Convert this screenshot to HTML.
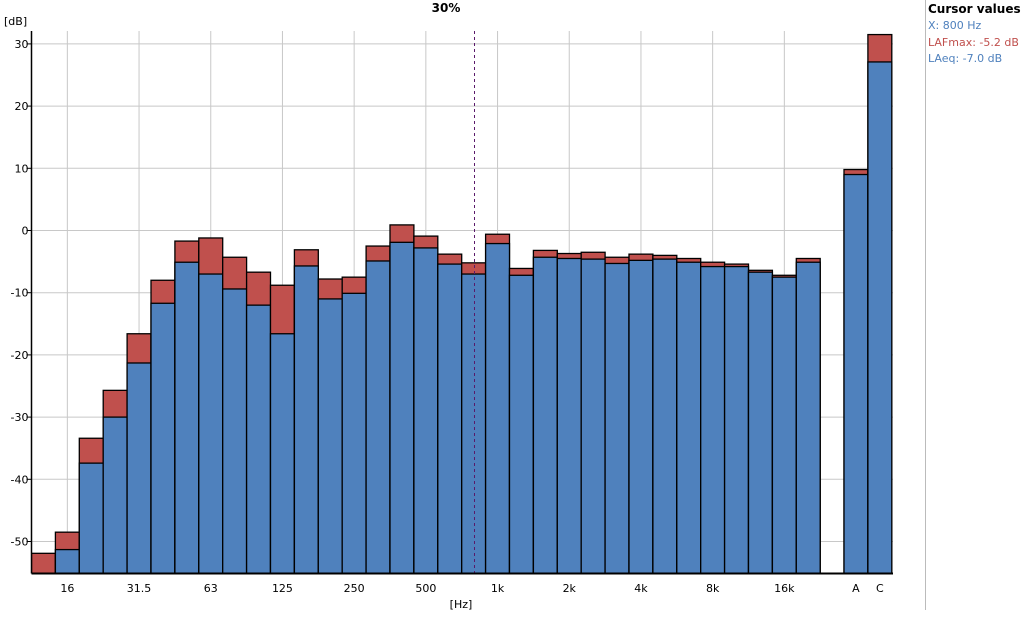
<!DOCTYPE html>
<html><head><meta charset="utf-8"><style>
body{margin:0;background:#fff;font-family:"DejaVu Sans","Liberation Sans",sans-serif;}
svg text{font-family:"DejaVu Sans","Liberation Sans",sans-serif;}
</style></head><body>
<svg width="1030" height="617" xmlns="http://www.w3.org/2000/svg">
<g id="grid"></g>
<g id="bars"></g>
<g id="axes"></g>
<text x="446" y="12" text-anchor="middle" font-size="12" font-weight="bold">30%</text>
<text x="4" y="25" font-size="11">[dB]</text>
<text x="461" y="608" text-anchor="middle" font-size="11">[Hz]</text>
<line x1="925.5" y1="0" x2="925.5" y2="610" stroke="#bbb"/>
<text x="928" y="13" font-size="12" font-weight="bold">Cursor values</text>
<text x="928" y="29" font-size="11" fill="#4f81bd">X: 800 Hz</text>
<text x="928" y="46" font-size="11" fill="#c0504d">LAFmax: -5.2 dB</text>
<text x="928" y="62" font-size="11" fill="#4f81bd">LAeq: -7.0 dB</text>
</svg>
<script>
const categories=["12.5","16","20","25","31.5","40","50","63","80","100","125","160","200","250","315","400","500","630","800","1k","1.25k","1.6k","2k","2.5k","3.15k","4k","5k","6.3k","8k","10k","12.5k","16k","20k","A","C"];
const lafmax=[-51.9,-48.5,-33.4,-25.7,-16.6,-8.0,-1.7,-1.2,-4.3,-6.7,-8.8,-3.1,-7.8,-7.5,-2.5,0.9,-0.9,-3.8,-5.2,-0.6,-6.1,-3.2,-3.7,-3.5,-4.3,-3.8,-4.0,-4.5,-5.1,-5.4,-6.4,-7.2,-4.5,9.8,31.5];
const laeq=[-56,-51.3,-37.4,-30.0,-21.3,-11.7,-5.1,-7.0,-9.4,-12.0,-16.6,-5.7,-11.0,-10.1,-4.9,-1.9,-2.8,-5.4,-7.0,-2.1,-7.2,-4.3,-4.5,-4.6,-5.3,-4.8,-4.6,-5.1,-5.8,-5.8,-6.7,-7.5,-5.1,9.0,27.1];
const yTicks=[30,20,10,0,-10,-20,-30,-40,-50];
const xLabels=["16","31.5","63","125","250","500","1k","2k","4k","8k","16k","A","C"];
const NS="http://www.w3.org/2000/svg";
const X0=31.5,BW=23.9,PT=31,PB=573.5,PR=893;
const Y=v=>230.5-v*6.22;
const band=i=>i<33?X0+i*BW:844+(i-33)*BW;
const cx=lab=>band(categories.indexOf(lab))+BW/2;
function mk(tag,attrs,parent){const e=document.createElementNS(NS,tag);for(const k in attrs)e.setAttribute(k,attrs[k]);document.getElementById(parent).appendChild(e);return e;}
yTicks.forEach(t=>{
 const l=mk('line',{x1:X0,x2:PR,y1:Y(t),y2:Y(t),stroke:'#c8c8c8'},'grid');
 
 
 const k=mk('line',{x1:X0-5,x2:X0,y1:Y(t),y2:Y(t),stroke:'#000'},'axes');
 
 
 const tx=mk('text',{x:X0-3,y:Y(t)+4,'text-anchor':'end','font-size':'11'},'axes');
 tx.textContent=t;
 
 
});
xLabels.forEach(lab=>{
 const x=cx(lab);
 if(lab!=="A"&&lab!=="C"){
  const l=mk('line',{x1:x,x2:x,y1:PT,y2:PB,stroke:'#c8c8c8'},'grid');
  
  
 }
 const tx=mk('text',{x:x,y:592,'text-anchor':'middle','font-size':'11'},'axes');
 tx.textContent=lab;
 
 
});
const clip=mk('clipPath',{id:'pc'},'bars');
const cr=document.createElementNS(NS,'rect');cr.setAttribute('x',X0);cr.setAttribute('y',PT);cr.setAttribute('width',PR-X0);cr.setAttribute('height',PB-PT);clip.appendChild(cr);
categories.forEach((c,i)=>{
 const x=band(i);
 const r=mk('rect',{x:x,y:Y(lafmax[i]),width:BW,height:Math.max(0,PB-Y(lafmax[i])),fill:'#c0504d',stroke:'#000','stroke-width':'1.3','clip-path':'url(#pc)'},'bars');
 
 
 const b=mk('rect',{x:x,y:Y(laeq[i]),width:BW,height:Math.max(0,PB-Y(laeq[i])),fill:'#4f81bd',stroke:'#000','stroke-width':'1.3','clip-path':'url(#pc)'},'bars');
 
 
});
const cur=mk('line',{x1:474.5,x2:474.5,y1:PT,y2:PB,stroke:'#5a1a6a','stroke-dasharray':'3,3'},'axes');


const ya=mk('line',{x1:X0,x2:X0,y1:PT,y2:PB,stroke:'#000','stroke-width':'1.5'},'axes');


const xa=mk('line',{x1:X0,x2:PR,y1:PB,y2:PB,stroke:'#000','stroke-width':'2'},'axes');


</script>
</body></html>
